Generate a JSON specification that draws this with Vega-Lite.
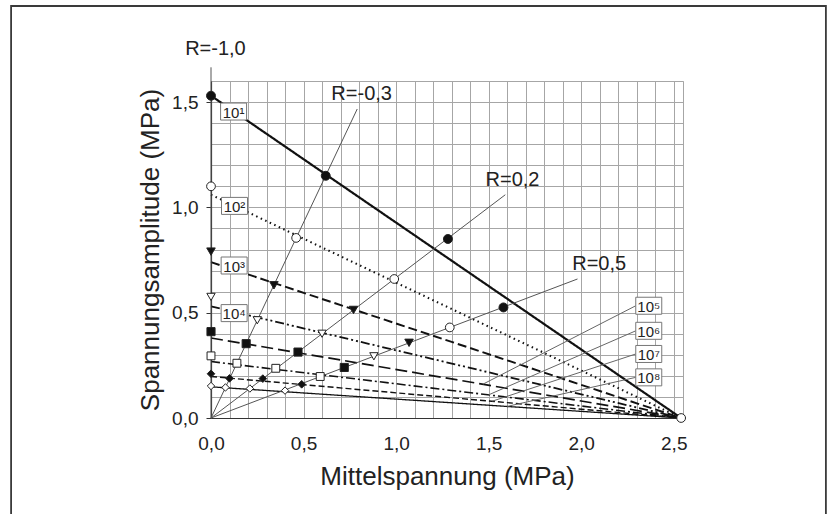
{
  "$schema": "https://vega.github.io/schema/vega-lite/v6.json",
  "width": 472,
  "height": 337,
  "autosize": "none",
  "padding": {"left": 211, "top": 81, "right": 147, "bottom": 96},
  "background": "white",
  "config": {
    "font": "Liberation Sans",
    "view": {"stroke": "#a6a6a6", "strokeWidth": 1},
    "axis": {
      "labelFont": "Liberation Sans",
      "titleFont": "Liberation Sans",
      "labelColor": "#222",
      "titleColor": "#222",
      "titleFontWeight": "normal",
      "labelFontSize": 19,
      "titleFontSize": 26,
      "gridColor": "#a6a6a6",
      "gridWidth": 1,
      "gridOpacity": 1,
      "domainColor": "#333",
      "domainWidth": 1.2,
      "labelOverlap": false,
      "labelFlush": false
    }
  },
  "datasets": {
    "nlines": [
      {"N": "10¹", "sm": 0, "sa": 1.53}, {"N": "10¹", "sm": 2.54, "sa": 0},
      {"N": "10²", "sm": 0, "sa": 1.06}, {"N": "10²", "sm": 2.54, "sa": 0},
      {"N": "10³", "sm": 0, "sa": 0.74}, {"N": "10³", "sm": 2.54, "sa": 0},
      {"N": "10⁴", "sm": 0, "sa": 0.53}, {"N": "10⁴", "sm": 2.54, "sa": 0},
      {"N": "10⁵", "sm": 0, "sa": 0.38}, {"N": "10⁵", "sm": 2.54, "sa": 0},
      {"N": "10⁶", "sm": 0, "sa": 0.268}, {"N": "10⁶", "sm": 2.54, "sa": 0},
      {"N": "10⁷", "sm": 0, "sa": 0.197}, {"N": "10⁷", "sm": 2.54, "sa": 0},
      {"N": "10⁸", "sm": 0, "sa": 0.148}, {"N": "10⁸", "sm": 2.54, "sa": 0}
    ],
    "rays": [
      {"R": "R=-1,0", "sm": 0, "sa": 0}, {"R": "R=-1,0", "sm": 0, "sa": 1.665},
      {"R": "R=-0,3", "sm": 0, "sa": 0}, {"R": "R=-0,3", "sm": 0.79, "sa": 1.467},
      {"R": "R=0,2", "sm": 0, "sa": 0}, {"R": "R=0,2", "sm": 1.59, "sa": 1.06},
      {"R": "R=0,5", "sm": 0, "sa": 0}, {"R": "R=0,5", "sm": 1.98, "sa": 0.66}
    ],
    "rlabels": [
      {"R": "R=-1,0", "sm": 0.024, "sa": 1.75},
      {"R": "R=-0,3", "sm": 0.814, "sa": 1.54},
      {"R": "R=0,2", "sm": 1.629, "sa": 1.129},
      {"R": "R=0,5", "sm": 2.097, "sa": 0.733}
    ],
    "leaders": [
      {"N": "10⁵", "sm": 2.295, "sa": 0.533}, {"N": "10⁵", "sm": 1.47, "sa": 0.161},
      {"N": "10⁶", "sm": 2.295, "sa": 0.414}, {"N": "10⁶", "sm": 1.5, "sa": 0.11},
      {"N": "10⁷", "sm": 2.295, "sa": 0.304}, {"N": "10⁷", "sm": 1.52, "sa": 0.08},
      {"N": "10⁸", "sm": 2.295, "sa": 0.193}, {"N": "10⁸", "sm": 1.6, "sa": 0.055}
    ],
    "nlabels": [
      {"N": "10¹", "sm": 0.122, "sa": 1.455},
      {"N": "10²", "sm": 0.127, "sa": 1.007},
      {"N": "10³", "sm": 0.125, "sa": 0.724},
      {"N": "10⁴", "sm": 0.125, "sa": 0.498},
      {"N": "10⁵", "sm": 2.365, "sa": 0.533},
      {"N": "10⁶", "sm": 2.365, "sa": 0.414},
      {"N": "10⁷", "sm": 2.365, "sa": 0.304},
      {"N": "10⁸", "sm": 2.365, "sa": 0.193}
    ],
    "points": [
      {"N": "10¹", "sm": 0, "sa": 1.53}, {"N": "10¹", "sm": 0.62, "sa": 1.15}, {"N": "10¹", "sm": 1.28, "sa": 0.85}, {"N": "10¹", "sm": 1.58, "sa": 0.525},
      {"N": "10²", "sm": 0, "sa": 1.1}, {"N": "10²", "sm": 0.46, "sa": 0.855}, {"N": "10²", "sm": 0.99, "sa": 0.66}, {"N": "10²", "sm": 1.29, "sa": 0.43},
      {"N": "10³", "sm": 0, "sa": 0.79}, {"N": "10³", "sm": 0.34, "sa": 0.63}, {"N": "10³", "sm": 0.77, "sa": 0.513}, {"N": "10³", "sm": 1.07, "sa": 0.357},
      {"N": "10⁴", "sm": 0, "sa": 0.575}, {"N": "10⁴", "sm": 0.25, "sa": 0.464}, {"N": "10⁴", "sm": 0.6, "sa": 0.4}, {"N": "10⁴", "sm": 0.88, "sa": 0.293},
      {"N": "10⁵", "sm": 0, "sa": 0.41}, {"N": "10⁵", "sm": 0.19, "sa": 0.353}, {"N": "10⁵", "sm": 0.47, "sa": 0.313}, {"N": "10⁵", "sm": 0.72, "sa": 0.24},
      {"N": "10⁶", "sm": 0, "sa": 0.295}, {"N": "10⁶", "sm": 0.14, "sa": 0.26}, {"N": "10⁶", "sm": 0.35, "sa": 0.236}, {"N": "10⁶", "sm": 0.59, "sa": 0.197},
      {"N": "10⁷", "sm": 0, "sa": 0.21}, {"N": "10⁷", "sm": 0.1, "sa": 0.188}, {"N": "10⁷", "sm": 0.28, "sa": 0.187}, {"N": "10⁷", "sm": 0.49, "sa": 0.16},
      {"N": "10⁸", "sm": 0, "sa": 0.152}, {"N": "10⁸", "sm": 0.078, "sa": 0.145}, {"N": "10⁸", "sm": 0.21, "sa": 0.14}, {"N": "10⁸", "sm": 0.4, "sa": 0.13},
      {"N": "10²", "sm": 2.54, "sa": 0}
    ]
  },
  "layer": [
    {
      "data": {"values": [{"frame": 1}]},
      "mark": {"type": "rect", "filled": false, "stroke": "#3a3a3a", "strokeWidth": 1.8, "clip": false},
      "encoding": {
        "x": {
          "datum": -1.08, "type": "quantitative",
          "scale": {"domain": [0, 2.55], "nice": false, "zero": false},
          "axis": {
            "title": "Mittelspannung (MPa)",
            "values": [0, 0.1, 0.2, 0.3, 0.4, 0.5, 0.6, 0.7, 0.8, 0.9, 1, 1.1, 1.2, 1.3, 1.4, 1.5, 1.6, 1.7, 1.8, 1.9, 2, 2.1, 2.2, 2.3, 2.4, 2.5],
            "tickCount": 40,
            "grid": true,
            "ticks": false,
            "labelPadding": 16,
            "titlePadding": 10,
            "labelExpr": "abs(datum.value*2 - round(datum.value*2)) < 0.01 ? replace(format(datum.value, '.1f'), '.', ',') : ''"
          }
        },
        "x2": {"datum": 3.322},
        "y": {
          "datum": 1.956, "type": "quantitative",
          "scale": {"domain": [0, 1.6], "nice": false, "zero": false},
          "axis": {
            "title": "Spannungsamplitude (MPa)",
            "values": [0, 0.1, 0.2, 0.3, 0.4, 0.5, 0.6, 0.7, 0.8, 0.9, 1, 1.1, 1.2, 1.3, 1.4, 1.5, 1.6],
            "tickCount": 30,
            "grid": true,
            "ticks": true,
            "tickSize": 5,
            "tickColor": "#333",
            "tickOpacity": {"condition": {"test": "abs(datum.value*2 - round(datum.value*2)) < 0.01", "value": 1}, "value": 0},
            "labelPadding": 8,
            "titlePadding": 8,
            "labelExpr": "abs(datum.value*2 - round(datum.value*2)) < 0.01 ? replace(format(datum.value, '.1f'), '.', ',') : ''"
          }
        },
        "y2": {"datum": -0.55}
      }
    },
    {
      "data": {"name": "nlines"},
      "mark": {"type": "line", "color": "#111"},
      "encoding": {
        "x": {"field": "sm", "type": "quantitative", "title": "Mittelspannung (MPa)"},
        "y": {"field": "sa", "type": "quantitative", "title": "Spannungsamplitude (MPa)"},
        "detail": {"field": "N", "type": "nominal"},
        "strokeDash": {
          "field": "N", "type": "nominal", "legend": null,
          "scale": {
            "domain": ["10¹", "10²", "10³", "10⁴", "10⁵", "10⁶", "10⁷", "10⁸"],
            "range": [[1, 0], [1.5, 3.5], [9, 4], [9, 3, 2, 3, 2, 3], [12, 5], [9, 3, 2, 3], [6, 3], [1, 0]]
          }
        },
        "strokeWidth": {
          "field": "N", "type": "ordinal", "legend": null,
          "scale": {
            "domain": ["10¹", "10²", "10³", "10⁴", "10⁵", "10⁶", "10⁷", "10⁸"],
            "range": [2.2, 1.3, 1.6, 1.3, 1.6, 1.3, 1.5, 1.4]
          }
        }
      }
    },
    {
      "data": {"name": "rays"},
      "mark": {"type": "line", "color": "#555", "strokeWidth": 1, "clip": false},
      "encoding": {
        "x": {"field": "sm", "type": "quantitative", "title": "Mittelspannung (MPa)"},
        "y": {"field": "sa", "type": "quantitative", "title": "Spannungsamplitude (MPa)"},
        "detail": {"field": "R", "type": "nominal"}
      }
    },
    {
      "data": {"name": "leaders"},
      "mark": {"type": "line", "color": "#666", "strokeWidth": 1},
      "encoding": {
        "x": {"field": "sm", "type": "quantitative", "title": "Mittelspannung (MPa)"},
        "y": {"field": "sa", "type": "quantitative", "title": "Spannungsamplitude (MPa)"},
        "detail": {"field": "N", "type": "nominal"}
      }
    },
    {
      "data": {"name": "nlabels"},
      "mark": {"type": "point", "shape": "M-1,-0.654H1V0.654H-1Z", "size": 676, "filled": true, "fill": "white", "stroke": "#777", "strokeWidth": 1, "opacity": 1},
      "encoding": {
        "x": {"field": "sm", "type": "quantitative", "title": "Mittelspannung (MPa)"},
        "y": {"field": "sa", "type": "quantitative", "title": "Spannungsamplitude (MPa)"}
      }
    },
    {
      "data": {"name": "nlabels"},
      "mark": {"type": "text", "fontSize": 15, "color": "#222", "align": "center", "baseline": "middle", "dy": 1},
      "encoding": {
        "x": {"field": "sm", "type": "quantitative", "title": "Mittelspannung (MPa)"},
        "y": {"field": "sa", "type": "quantitative", "title": "Spannungsamplitude (MPa)"},
        "text": {"field": "N", "type": "nominal"}
      }
    },
    {
      "data": {"name": "points"},
      "mark": {"type": "point", "filled": true, "stroke": "#222", "strokeWidth": 1, "opacity": 1},
      "encoding": {
        "x": {"field": "sm", "type": "quantitative", "title": "Mittelspannung (MPa)"},
        "y": {"field": "sa", "type": "quantitative", "title": "Spannungsamplitude (MPa)"},
        "shape": {
          "field": "N", "type": "nominal", "legend": null,
          "scale": {
            "domain": ["10¹", "10²", "10³", "10⁴", "10⁵", "10⁶", "10⁷", "10⁸"],
            "range": ["circle", "circle", "triangle-down", "triangle-down", "square", "square", "diamond", "diamond"]
          }
        },
        "fill": {
          "field": "N", "type": "nominal", "legend": null,
          "scale": {
            "domain": ["10¹", "10²", "10³", "10⁴", "10⁵", "10⁶", "10⁷", "10⁸"],
            "range": ["#111", "white", "#111", "white", "#111", "white", "#111", "white"]
          }
        },
        "size": {
          "field": "N", "type": "ordinal", "legend": null,
          "scale": {
            "domain": ["10¹", "10²", "10³", "10⁴", "10⁵", "10⁶", "10⁷", "10⁸"],
            "range": [80, 55, 55, 55, 50, 50, 60, 60]
          }
        }
      }
    },
    {
      "data": {"name": "rlabels"},
      "mark": {"type": "text", "fontSize": 20, "color": "#222", "align": "center", "baseline": "middle"},
      "encoding": {
        "x": {"field": "sm", "type": "quantitative", "title": "Mittelspannung (MPa)"},
        "y": {"field": "sa", "type": "quantitative", "title": "Spannungsamplitude (MPa)"},
        "text": {"field": "R", "type": "nominal"}
      }
    }
  ]
}
